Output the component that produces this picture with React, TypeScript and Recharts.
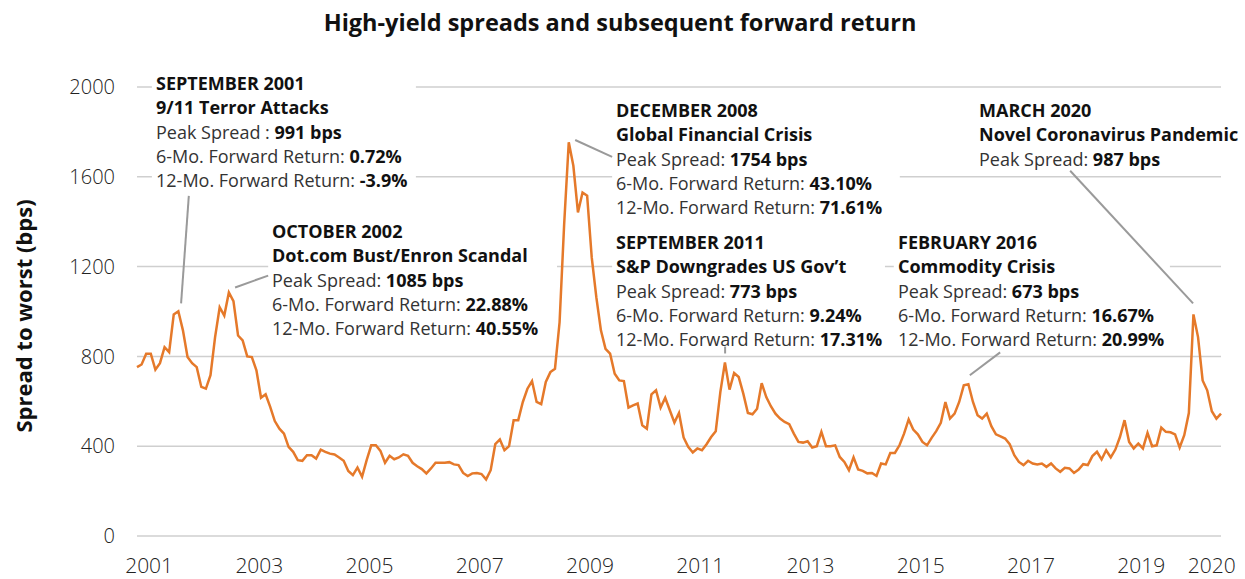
import React from "react";
import {
  CartesianGrid,
  Line,
  LineChart,
  ReferenceArea,
  ReferenceLine,
  XAxis,
  YAxis,
} from "recharts";

// monthly spread to worst (bps), Jan 2001 .. Sep 2020
const START_YEAR = 2001;
const spreads = [
  752, 764, 812, 812, 741, 770, 841, 819, 987, 1001, 916, 797,
  770, 752, 664, 656, 716, 886, 1019, 982, 1085, 1046, 893, 871,
  800, 797, 738, 616, 631, 575, 512, 478, 456, 397, 375, 338,
  335, 360, 360, 345, 385, 375, 367, 363, 350, 335, 290, 271,
  305, 264, 338, 404, 404, 379, 326, 357, 342, 350, 364, 357,
  326, 311, 298, 279, 301, 326, 326, 326, 329, 319, 316, 281,
  267, 279, 281, 276, 252, 293, 409, 430, 382, 400, 516, 516,
  597, 656, 690, 597, 587, 686, 730, 745, 952, 1390, 1754, 1649,
  1441, 1530, 1516, 1241, 1064, 916, 834, 812, 723, 693, 690, 572,
  582, 590, 493, 478, 631, 649, 572, 616, 560, 505, 548, 439,
  397, 372, 390, 382, 409, 441, 467, 641, 773, 652, 726, 708,
  634, 548, 542, 567, 681, 619, 578, 545, 523, 508, 498, 456,
  419, 416, 422, 394, 400, 464, 400, 400, 404, 352, 330, 293,
  350, 296, 290, 279, 281, 268, 323, 319, 370, 370, 404, 456,
  519, 474, 453, 419, 404, 437, 467, 504, 597, 523, 545, 597,
  671, 676, 597, 538, 523, 545, 489, 453, 444, 434, 409, 360,
  330, 316, 335, 323, 319, 323, 308, 323, 301, 286, 304, 301,
  281, 296, 320, 316, 356, 375, 341, 382, 350, 385, 441, 516,
  419, 390, 412, 390, 459, 400, 404, 483, 464, 462, 453, 394,
  449, 548, 987, 886, 693, 649, 556, 523, 545,
];
const yTicks = [0, 400, 800, 1200, 1600, 2000];
const yearLabels = [2001, 2003, 2005, 2007, 2009, 2011, 2013, 2015, 2017, 2019, 2020];

const data = spreads.map((v, i) => ({ t: START_YEAR + i / 12, spread: v }));
const xMax = START_YEAR + (spreads.length - 1) / 12;
const xTicks = yearLabels.map((y) => y + (y === 2020 ? 0.5 : 0.22));

type Run = [string, boolean];
type Note = { left: number; top: number; lines: Run[][] };

// callout text
const notes: Note[] = [
  {
    left: 156,
    top: 90,
    lines: [
      [["SEPTEMBER 2001", true]],
      [["9/11 Terror Attacks", true]],
      [["Peak Spread : ", false], ["991 bps", true]],
      [["6-Mo. Forward Return: ", false], ["0.72%", true]],
      [["12-Mo. Forward Return: ", false], [" -3.9%", true]],
    ],
  },
  {
    left: 272,
    top: 238,
    lines: [
      [["OCTOBER 2002", true]],
      [["Dot.com Bust/Enron Scandal", true]],
      [["Peak Spread: ", false], ["1085 bps", true]],
      [["6-Mo. Forward Return: ", false], ["22.88%", true]],
      [["12-Mo. Forward Return: ", false], ["40.55%", true]],
    ],
  },
  {
    left: 616,
    top: 117,
    lines: [
      [["DECEMBER 2008", true]],
      [["Global Financial Crisis", true]],
      [["Peak Spread: ", false], ["1754 bps", true]],
      [["6-Mo. Forward Return: ", false], ["43.10%", true]],
      [["12-Mo. Forward Return: ", false], ["71.61%", true]],
    ],
  },
  {
    left: 616,
    top: 249,
    lines: [
      [["SEPTEMBER 2011", true]],
      [["S&P Downgrades US Gov\u2019t", true]],
      [["Peak Spread: ", false], ["773 bps", true]],
      [["6-Mo. Forward Return: ", false], ["9.24%", true]],
      [["12-Mo. Forward Return: ", false], ["17.31%", true]],
    ],
  },
  {
    left: 898,
    top: 249,
    lines: [
      [["FEBRUARY 2016", true]],
      [["Commodity Crisis", true]],
      [["Peak Spread: ", false], ["673 bps", true]],
      [["6-Mo. Forward Return: ", false], ["16.67%", true]],
      [["12-Mo. Forward Return: ", false], ["20.99%", true]],
    ],
  },
  {
    left: 979,
    top: 117,
    lines: [
      [["MARCH 2020", true]],
      [["Novel Coronavirus Pandemic", true]],
      [["Peak Spread: ", false], ["987 bps", true]],
    ],
  },
];

// white panels behind callouts (data coords) so gridlines stop at the text
const panels = [
  { x1: 2001.27, x2: 2006.06, y1: 1520, y2: 2071 },
  { x1: 2003.38, x2: 2008.62, y1: 858, y2: 1413 },
  { x1: 2009.62, x2: 2014.84, y1: 1404, y2: 1951 },
  { x1: 2009.62, x2: 2014.57, y1: 849, y2: 1364 },
  { x1: 2014.73, x2: 2019.74, y1: 849, y2: 1364 },
];

// leader lines from callout to peak (data coords)
const leaders = [
  [{ x: 2001.94, y: 1515 }, { x: 2001.8, y: 1036 }],
  [{ x: 2003.38, y: 1160 }, { x: 2002.78, y: 1107 }],
  [{ x: 2009.62, y: 1689 }, { x: 2008.95, y: 1764 }],
  [{ x: 2011.67, y: 844 }, { x: 2011.67, y: 813 }],
  [{ x: 2016.66, y: 818 }, { x: 2016.11, y: 716 }],
  [{ x: 2017.93, y: 1627 }, { x: 2020.16, y: 1036 }],
];

const FONT = "'Open Sans', 'Noto Sans', sans-serif";
const LINE_GAP = 24.3;

export default function App() {
  return (
    <div
      style={{
        position: "absolute",
        left: 0,
        top: 0,
        width: 1245,
        height: 579,
        background: "#fff",
      }}
    >
      <LineChart
        width={1245}
        height={579}
        data={data}
        margin={{ top: 87, right: 24, bottom: 13, left: 77 }}
      >
        <CartesianGrid vertical={false} stroke="#cfcfcf" strokeWidth={1.5} />
        <XAxis
          type="number"
          dataKey="t"
          domain={[START_YEAR, xMax]}
          ticks={xTicks}
          interval={0}
          tickFormatter={(v: number) => String(Math.floor(v))}
          axisLine={false}
          tickLine={false}
          height={30}
          tickMargin={16}
          tick={{ fontSize: 21, fill: "#222", fontFamily: FONT, fontWeight: 300 }}
        />
        <YAxis
          type="number"
          domain={[0, 2000]}
          ticks={yTicks}
          interval={0}
          axisLine={false}
          tickLine={false}
          width={60}
          tickMargin={16}
          tick={{ fontSize: 20, fill: "#222", fontFamily: FONT, fontWeight: 300 }}
        />
        {panels.map((p, i) => (
          <ReferenceArea
            key={"p" + i}
            x1={p.x1}
            x2={p.x2}
            y1={p.y1}
            y2={p.y2}
            fill="#fff"
            fillOpacity={1}
            stroke="none"
            ifOverflow="visible"
          />
        ))}
        {leaders.map((seg, i) => (
          <ReferenceLine
            key={"l" + i}
            segment={seg}
            stroke="#9a9a9a"
            strokeWidth={2}
            ifOverflow="visible"
          />
        ))}
        <Line
          type="linear"
          dataKey="spread"
          stroke="#E5792A"
          strokeWidth={2.5}
          dot={false}
          isAnimationActive={false}
        />
      </LineChart>
      <svg
        width={1245}
        height={579}
        style={{ position: "absolute", left: 0, top: 0, pointerEvents: "none" }}
        fontFamily={FONT}
      >
        <text x={620} y={31} textAnchor="middle" fontSize={23.5} fontWeight={700} fill="#111">
          High-yield spreads and subsequent forward return
        </text>
        <text
          transform="translate(32,316) rotate(-90)"
          textAnchor="middle"
          fontSize={22}
          fontWeight={700}
          fill="#111"
        >
          Spread to worst (bps)
        </text>
        {notes.map((n, i) => (
          <g key={i}>
            {n.lines.map((runs, j) => (
              <text key={j} x={n.left} y={n.top + j * LINE_GAP} fontSize={18} fill="#222">
                {runs.map(([s, b], k) => (
                  <tspan key={k} fontWeight={b ? 700 : 400} fill={b ? "#111" : "#333"}>
                    {s}
                  </tspan>
                ))}
              </text>
            ))}
          </g>
        ))}
      </svg>
    </div>
  );
}
